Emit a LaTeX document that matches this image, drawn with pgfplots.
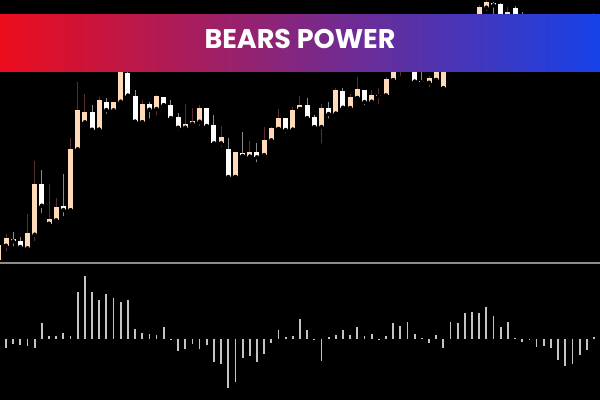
\documentclass[border=0pt]{standalone}
\usepackage{pgfplots}
\pgfplotsset{compat=1.18}
\usepackage{pgfplotstable}
\usepackage{fontspec}
\newfontfamily\bannerfont{Poppins}

\definecolor{bullbody}{HTML}{FFDAB9}
\definecolor{bullwick}{HTML}{5A2E2E}
\definecolor{bearwick}{HTML}{8A8A8A}
\definecolor{histgray}{HTML}{C4C4C4}
\definecolor{bannerred}{HTML}{EC0C1C}
\definecolor{bannerblue}{HTML}{1642E8}

% candles: i open high low close
\pgfplotstableread{
i open high low close
-1 3 20 1 18
0 17.3 28.7 9.7 25.3
3 14.7 49 13.7 30
4 28.3 102 19.7 79.3
6 39.3 78.7 37 44.3
7 42.7 65 40.3 56
9 52.7 125 52.7 113.7
10 113.7 181 110.3 153
11 140.7 169 138.7 151
13 133.3 166.3 133.3 163
15 152.7 161 151.3 161
16 161.3 200 159.7 198
19 140.7 163 140.7 159
21 154 168 145.7 167
25 135.3 158.7 133.7 138.7
26 139.3 154.7 137.3 142
27 141.3 158 134.7 154.7
30 119.7 137.3 113.7 126.3
32 86 111 86 111
34 106.3 121.7 106.3 111.3
36 108 136.3 106.3 123
37 122.7 136.3 119.7 135
38 134 154 134 144.7
40 133.3 156.3 133.3 153
41 154 167 154 158
44 136 159 117.3 155.3
46 149.3 174.7 149.3 172.7
48 155 168.7 152.7 166
49 165 186 165 174
51 161.3 173 159.7 168
52 167 174.7 157 168.3
53 167.7 186.3 164.7 184
54 183 205 182.3 200
55 200 222 184.7 215
59 180.3 187 173.7 184.7
60 183 205 183 200
61 174.7 212 174.7 205
62 205 220 200 215
64 208 230 205 225
65 224 246 220 240
66 240 258 236 256.3
67 255.3 263 249.7 260.7
70 243 256.3 240 251.3
75 212 222 208 218
78 200 214 197 210
80 202 220 200 214
81 214 232 210 228
82 228 250.3 225 240
}\bull

\pgfplotstableread{
i open high low close
1 23.7 30.7 14.7 21.7
2 21.7 25.7 13 16
5 79.3 93 48 57.3
8 57 89.3 44.7 53
12 151 158 129.7 133.3
14 161 165.3 147 153
17 189.7 195 167.3 167.3
18 166.7 173 141.3 141.3
20 159 161.3 142.3 153.3
22 166.3 166.3 157.7 157.7
23 158.3 163 143.7 145
24 145.7 149.7 130.7 135.3
28 155.3 155.3 135 137
29 138 148 117.7 119.7
31 114 124.7 82.7 86
33 110 130.7 107 107
35 111 119.7 98.7 105.7
39 145.3 145.3 128.3 133
42 158.3 164.7 144.7 144.7
43 145.7 148 135 136
45 154.7 160.7 142.3 149
47 171.7 175.3 153 155.3
50 173.3 173.3 155.7 161
56 215 225 200 205
57 205 212 181.3 181.3
58 182.5 195 177.3 181
63 215 222 204 208
68 259.7 261.3 245 257.7
69 258.7 260 236 240
71 254.7 257 234 238
72 240 251.3 224 228
73 228 232 215 220
74 220 224 208 212
76 218 220 204 208
77 208 212 196 200
79 210 216 198 202
}\bear

% bears power histogram
\pgfplotstableread{
i v
0 -9.7
1 -5.3
2 -6.3
3 -7.3
4 -9.7
5 16
6 2.7
7 2.7
8 6
9 2.7
10 46.7
11 62.7
12 46.3
13 38.7
14 44.7
15 40.3
16 37
17 38.3
18 9.7
19 5.7
20 4.7
21 3.7
22 11.7
23 -1.7
24 -12.7
25 -10
26 -5.7
27 -10.7
28 -6.3
29 -23
30 -25
31 -49.7
32 -43
33 -19
34 -17.3
35 -23
36 -15.3
37 -4
38 8.3
39 1.3
40 2.7
41 19.3
42 8.7
43 -1.3
44 -22
45 1.3
46 3.7
47 8.3
48 3.7
49 11.7
50 2.7
51 4.7
52 -1.3
53 2.7
54 15.7
55 12.7
56 16.7
57 4.7
58 0.7
59 -4.7
60 3.3
61 -9
62 16.7
63 15.7
64 25.3
65 26.7
66 25.7
67 32
68 22.7
69 11.7
70 16.7
71 0.3
72 -3
73 -1.7
74 -8
75 -7
76 -9
77 -21.3
78 -27
79 -25.7
80 -16
81 -11
82 1.3
}\hist

\pgfplotsset{
  chartbase/.style={
    width=600pt, scale only axis, hide axis,
    xmin=-0.837, xmax=82.845,
  },
  wick/.style={
    only marks, mark=none, forget plot,
    error bars/.cd, y dir=plus, y explicit, error mark=none,
    error bar style={draw=#1, line width=1pt},
  },
  body/.style={
    only marks, mark=none, forget plot,
    error bars/.cd, y dir=plus, y explicit, error mark=none,
    error bar style={draw=#1, line width=5pt},
  },
}

\begin{document}
\begin{tikzpicture}
\fill[black] (0,0) rectangle (600pt,400pt);

% price panel
\begin{axis}[chartbase, height=263pt, at={(0pt,137pt)}, anchor=south west,
  ymin=0, ymax=263]
  \addplot[wick=bullwick] table[x=i, y=low,
    y error plus expr=\thisrow{high}-\thisrow{low}] {\bull};
  \addplot[wick=bearwick] table[x=i, y=low,
    y error plus expr=\thisrow{high}-\thisrow{low}] {\bear};
  \addplot[body=bullbody] table[x=i, y=open,
    y error plus expr=\thisrow{close}-\thisrow{open}] {\bull};
  \addplot[body=white] table[x=i, y=close,
    y error plus expr=\thisrow{open}-\thisrow{close}] {\bear};
\end{axis}

% indicator panel
\begin{axis}[chartbase, height=137pt, at={(0pt,0pt)}, anchor=south west,
  ymin=-61.3, ymax=75.7]
  \addplot[ycomb, histgray, line width=1.8pt, mark=none] table[x=i, y=v] {\hist};
\end{axis}

\draw[gray!90, line width=1.6pt] (0pt,137pt) -- (600pt,137pt);

% title banner
\shade[left color=bannerred, right color=bannerblue] (0pt,328.3pt) rectangle (600pt,385.7pt);
\node[text=white, inner sep=0pt, font=\bannerfont\bfseries\fontsize{27}{29}\selectfont]
  at (300pt,360.7pt) {BEARS POWER};

\pgfresetboundingbox
\path (0pt,0pt) rectangle (600pt,400pt);
\end{tikzpicture}
\end{document}
